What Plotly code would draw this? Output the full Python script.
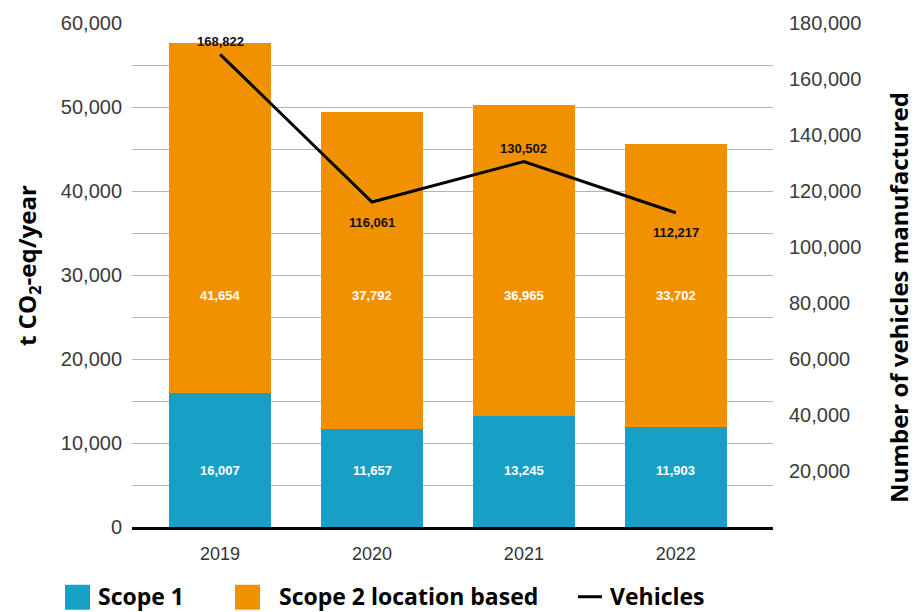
import plotly.graph_objects as go

years = ["2019", "2020", "2021", "2022"]
scope1 = [16007, 11657, 13245, 11903]
scope2 = [41654, 37792, 36965, 33702]
vehicles = [168822, 116061, 130502, 112217]
vehicle_label_shift = [13, -20, 13, -20]

left_ticks = [0, 10000, 20000, 30000, 40000, 50000, 60000]
right_ticks = [20000, 40000, 60000, 80000, 100000, 120000, 140000, 160000, 180000]

BLUE = "#179fc6"
ORANGE = "#f29100"
TICK_FAMILY = "Liberation Sans, Arial, sans-serif"
LABEL_FONT = "Liberation Sans, Arial, sans-serif"
TITLE_FONT = "Open Sans, sans-serif"

L, R, T, B = 132, 151, 21, 85
W, H = 924, 612
PW, PH = W - L - R, H - T - B


def px(x):
    return (x - L) / PW


def py(y):
    return (H - B - y) / PH


fig = go.Figure()
fig.add_trace(go.Bar(x=years, y=scope1, name="Scope 1", marker=dict(color=BLUE, line=dict(width=0)),
                     showlegend=False, hoverinfo="y"))
fig.add_trace(go.Bar(x=years, y=scope2, name="Scope 2 location based", marker=dict(color=ORANGE, line=dict(width=0)),
                     showlegend=False, hoverinfo="y"))
fig.add_trace(go.Scatter(x=years, y=vehicles, name="Vehicles", yaxis="y2", mode="lines",
                         line=dict(color="black", width=3), showlegend=False))

annotations = []
for i, (s1, s2, v, sh) in enumerate(zip(scope1, scope2, vehicles, vehicle_label_shift)):
    annotations.append(dict(x=i, y=6760, xref="x", yref="y", text=f"<b>{s1:,}</b>", showarrow=False,
                            font=dict(family=LABEL_FONT, size=13, color="white")))
    annotations.append(dict(x=i, y=27600, xref="x", yref="y", text=f"<b>{s2:,}</b>", showarrow=False,
                            font=dict(family=LABEL_FONT, size=13, color="white")))
    annotations.append(dict(x=i, y=v, xref="x", yref="y2", text=f"<b>{v:,}</b>", showarrow=False,
                            yshift=sh, font=dict(family=LABEL_FONT, size=13, color="#111111")))

# axis titles
annotations.append(dict(x=px(28), y=py(265), xref="paper", yref="paper", textangle=-90, showarrow=False,
                        xanchor="center", yanchor="middle",
                        text="<b>t CO<sub>2</sub>-eq/year</b>",
                        font=dict(family=TITLE_FONT, size=24, color="black")))
annotations.append(dict(x=px(899), y=py(297), xref="paper", yref="paper", textangle=-90, showarrow=False,
                        xanchor="center", yanchor="middle",
                        text="<b>Number of vehicles manufactured</b>",
                        font=dict(family=TITLE_FONT, size=24, color="black")))

# legend
leg_y = py(596)
for label, xpos in [("Scope 1", 96), ("Scope 2 location based", 277), ("Vehicles", 608)]:
    annotations.append(dict(x=px(xpos), y=leg_y, xref="paper", yref="paper", xanchor="left", yanchor="middle",
                            showarrow=False, text=f"<b>{label}</b>",
                            font=dict(family=TITLE_FONT, size=23, color="black")))

shapes = [
    dict(type="rect", xref="paper", yref="paper", x0=px(65), x1=px(90), y0=py(610), y1=py(585),
         fillcolor=BLUE, line=dict(width=0)),
    dict(type="rect", xref="paper", yref="paper", x0=px(235), x1=px(260), y0=py(610), y1=py(585),
         fillcolor=ORANGE, line=dict(width=0)),
    dict(type="line", xref="paper", yref="paper", x0=px(578), x1=px(602), y0=py(597), y1=py(597),
         line=dict(color="black", width=3)),
]

fig.update_layout(
    width=W, height=H,
    margin=dict(l=L, r=R, t=T, b=B),
    barmode="stack", bargap=0.33,
    plot_bgcolor="white", paper_bgcolor="white",
    showlegend=False,
    annotations=annotations, shapes=shapes,
    xaxis=dict(type="category", range=[-0.58, 3.64], showline=True, linecolor="black", linewidth=3,
               ticks="", tickfont=dict(family=TICK_FAMILY, size=18, color="#333333"),
               showgrid=False, zeroline=False, ticklabelstandoff=8),
    yaxis=dict(range=[0, 60000], tickvals=left_ticks, tickformat=",",
               tickfont=dict(family=TICK_FAMILY, size=20, color="#3a3a3a"),
               showgrid=True, gridcolor="#b4b4b4", gridwidth=1, zeroline=False,
               minor=dict(dtick=5000, tick0=0, showgrid=True, gridcolor="#b4b4b4", gridwidth=1),
               ticks="", ticklabelstandoff=9),
    yaxis2=dict(range=[0, 180000], overlaying="y", side="right", tickvals=right_ticks, tickformat=",",
                tickfont=dict(family=TICK_FAMILY, size=20, color="#3a3a3a"),
                showgrid=False, zeroline=False, ticks="", ticklabelstandoff=15),
)

fig.write_html("out.html")
